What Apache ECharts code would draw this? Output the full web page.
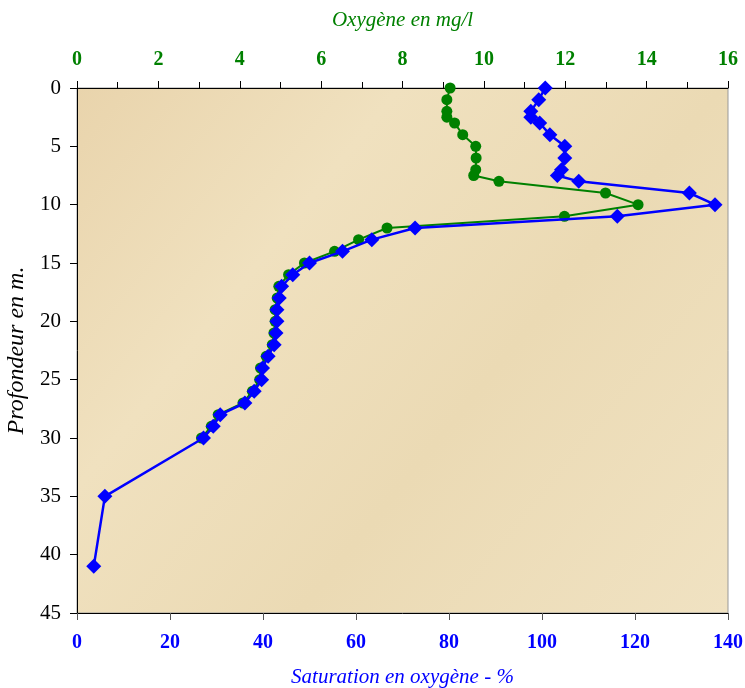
<!DOCTYPE html>
<html>
<head>
<meta charset="utf-8">
<script src="https://cdn.jsdelivr.net/npm/echarts@6/dist/echarts.min.js"></script>
<style>html,body{margin:0;padding:0;background:#fff;}#c{width:745px;height:688px;}</style>
</head>
<body>
<div id="c"></div>
<script>
// Depths (m) for oxygen concentration (mg/l)
const depthO2 = [0, 1, 2, 2.5, 3, 4, 5, 6, 7, 7.5, 8, 9, 10, 11, 12, 13, 14, 15, 16, 17, 18, 19, 20, 21, 22, 23, 24, 25, 26, 27, 28, 29, 30];
const oxygenMgL = [9.17, 9.09, 9.09, 9.09, 9.28, 9.48, 9.80, 9.81, 9.80, 9.75, 10.37, 12.99, 13.79, 11.98, 7.62, 6.92, 6.33, 5.59, 5.20, 4.96, 4.92, 4.87, 4.87, 4.84, 4.80, 4.65, 4.51, 4.49, 4.31, 4.08, 3.47, 3.30, 3.06];
// Depths (m) for saturation (%)
const depthSat = [0, 1, 2, 2.5, 3, 4, 5, 6, 7, 7.5, 8, 9, 10, 11, 12, 13, 14, 15, 16, 17, 18, 19, 20, 21, 22, 23, 24, 25, 26, 27, 28, 29, 30, 35, 41];
const saturationPct = [100.7, 99.3, 97.6, 97.6, 99.5, 101.7, 104.9, 104.9, 104.2, 103.3, 107.9, 131.7, 137.2, 116.2, 72.7, 63.4, 57.1, 50.0, 46.4, 44.0, 43.5, 43.0, 43.0, 42.8, 42.4, 41.1, 39.9, 39.7, 38.1, 36.1, 30.8, 29.3, 27.2, 6.0, 3.6];

const chart = echarts.init(document.getElementById('c'));
const serif = '"Liberation Serif", "DejaVu Serif", serif';
chart.setOption({
  animation: false,
  grid: {
    left: 77, right: 17, top: 88, bottom: 75,
    outerBoundsMode: 'none',
    containLabel: false,
    show: true,
    borderColor: '#999',
    borderWidth: 1,
    backgroundColor: {
      type: 'linear', x: 0, y: 0, x2: 1, y2: 1,
      colorStops: [
        {offset: 0, color: '#e9d4ac'},
        {offset: 0.3, color: '#f0e1bf'},
        {offset: 0.6, color: '#ebdab4'},
        {offset: 1, color: '#f0e2c2'}
      ]
    }
  },
  xAxis: [
    {
      type: 'value', position: 'bottom', min: 0, max: 140, interval: 20,
      name: 'Saturation en oxygène - %', nameLocation: 'middle', nameGap: 54,
      nameTextStyle: {color: '#0000ff', fontFamily: serif, fontStyle: 'italic', fontSize: 21},
      axisLine: {show: true, onZero: false, lineStyle: {color: '#000', width: 1}},
      axisTick: {show: true, length: 7, lineStyle: {color: '#555'}},
      axisLabel: {color: '#0000ff', fontFamily: serif, fontWeight: 'bold', fontSize: 20, margin: 20},
      splitLine: {show: false}
    },
    {
      type: 'value', position: 'top', min: 0, max: 16, interval: 2,
      name: 'Oxygène en mg/l', nameLocation: 'middle', nameGap: 57,
      nameTextStyle: {color: '#008000', fontFamily: serif, fontStyle: 'italic', fontSize: 21},
      axisLine: {show: true, onZero: false, lineStyle: {color: '#000', width: 1}},
      axisTick: {show: true, length: 7, inside: false, lineStyle: {color: '#000'}},
      minorTick: {show: true, splitNumber: 2, length: 6, lineStyle: {color: '#000'}},
      axisLabel: {color: '#008000', fontFamily: serif, fontWeight: 'bold', fontSize: 20, margin: 18},
      splitLine: {show: false}
    }
  ],
  yAxis: {
    type: 'value', inverse: true, min: 0, max: 45, interval: 5,
    name: 'Profondeur en m.', nameLocation: 'middle', nameGap: 48,
    nameTextStyle: {color: '#000', fontFamily: serif, fontStyle: 'italic', fontSize: 24},
    axisLine: {show: true, onZero: false, lineStyle: {color: '#000', width: 1}},
    axisTick: {show: true, length: 7, lineStyle: {color: '#000'}},
    axisLabel: {color: '#000', fontFamily: serif, fontSize: 21, margin: 16},
    splitLine: {show: false}
  },
  series: [
    {
      type: 'line', xAxisIndex: 1,
      data: oxygenMgL.map((v, i) => [v, depthO2[i]]),
      symbol: 'circle', symbolSize: 11,
      lineStyle: {color: '#008000', width: 2},
      itemStyle: {color: '#008000'},
      z: 2
    },
    {
      type: 'line', xAxisIndex: 0,
      data: saturationPct.map((v, i) => [v, depthSat[i]]),
      symbol: 'diamond', symbolSize: 15,
      lineStyle: {color: '#0000ff', width: 2.5},
      itemStyle: {color: '#0000ff'},
      z: 3
    }
  ]
});
</script>
</body>
</html>
